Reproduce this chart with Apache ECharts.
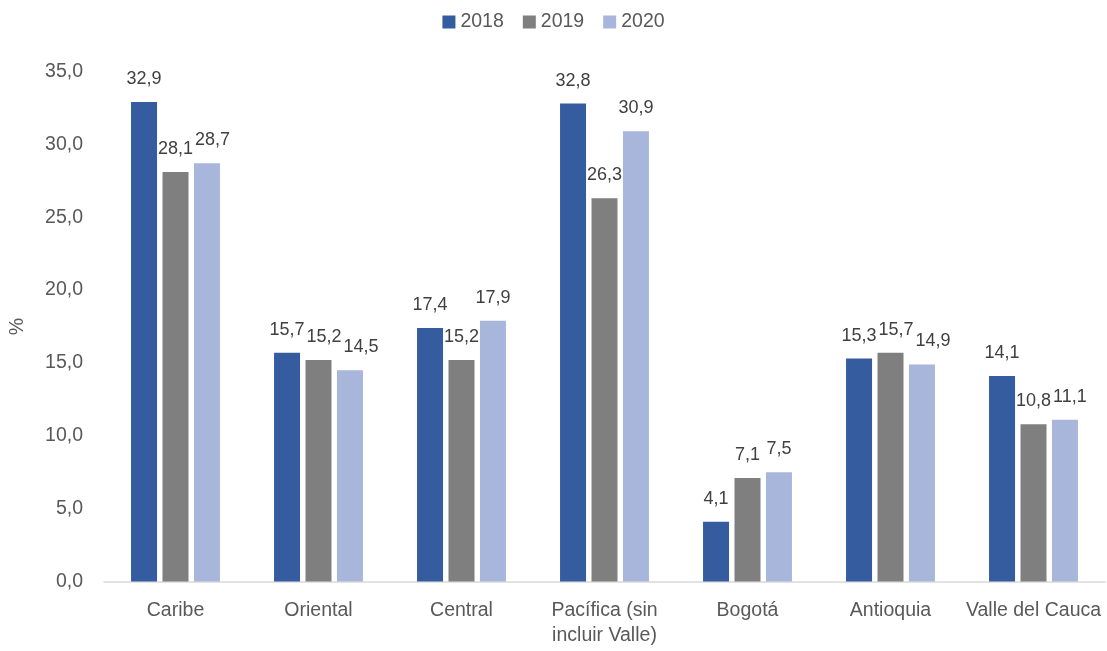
<!DOCTYPE html>
<html><head><meta charset="utf-8">
<script src="https://cdn.jsdelivr.net/npm/echarts@6/dist/echarts.min.js"></script>
<style>html,body{margin:0;padding:0;background:#fff}#c{width:1107px;height:651px}</style>
</head><body><div id="c"></div>
<script>
var categories = ['Caribe','Oriental','Central','Pacífica (sin\nincluir Valle)','Bogotá','Antioquia','Valle del Cauca'];
var s2018 = [32.9,15.7,17.4,32.8,4.1,15.3,14.1];
var s2019 = [28.1,15.2,15.2,26.3,7.1,15.7,10.8];
var s2020 = [28.7,14.5,17.9,30.9,7.5,14.9,11.1];
var yTicks = {min:0,max:35,interval:5};
function fmt(v){return Number(v).toFixed(1).replace('.',',');}
var font = 'Liberation Sans';
var labelSize = 18;
function mk(name,data,color){
  return {name:name,type:'bar',data:data,barWidth:26,barGap:'21%',
    itemStyle:{color:color},
    label:{show:true,position:'top',distance:14,color:'#404040',fontSize:labelSize,fontFamily:font,
      formatter:function(p){return fmt(p.value);}}};
}
var chart = echarts.init(document.getElementById('c'));
var seriesData = [s2018,s2019,s2020];
chart.setOption({
  animation:false,
  textStyle:{fontFamily:font},
  legend:{top:7,left:'center',itemWidth:13,itemHeight:13,itemGap:19,icon:'rect',
    textStyle:{fontSize:19.5,color:'#595959',fontFamily:font},data:['2018','2019','2020']},
  grid:{left:103,right:2,top:71.5,bottom:69.5,containLabel:false},
  xAxis:{type:'category',data:categories,
    axisLine:{lineStyle:{color:'#D9D9D9',width:1.5}},axisTick:{show:false},
    axisLabel:{color:'#595959',fontSize:19.5,fontFamily:font,margin:17,lineHeight:25,interval:0}},
  yAxis:{type:'value',min:yTicks.min,max:yTicks.max,interval:yTicks.interval,
    name:'%',nameLocation:'middle',nameGap:76,nameRotate:90,
    nameTextStyle:{color:'#595959',fontSize:19.5,fontFamily:font},
    axisLine:{show:false},axisTick:{show:false},splitLine:{show:false},
    axisLabel:{color:'#595959',fontSize:19.5,fontFamily:font,margin:21,formatter:function(v){return fmt(v);}}},
  series:[mk('2018',s2018,'#345C9F'),mk('2019',s2019,'#7F7F7F'),mk('2020',s2020,'#A9B6DB')]
});
// Resolve overlapping value labels (push right, like the spreadsheet chart does)
(function(){
  var ctx = document.createElement('canvas').getContext('2d');
  ctx.font = labelSize + 'px "' + font + '"';
  var model = chart.getModel();
  var shifted = seriesData.map(function(){return [];});
  var lh = labelSize + 2;
  for (var c = 0; c < categories.length; c++) {
    var placed = [];
    for (var s = 0; s < seriesData.length; s++) {
      var v = seriesData[s][c];
      var lay = model.getSeriesByIndex(s).getData().getItemLayout(c);
      var cx = lay.x + lay.width/2;
      var ty = chart.convertToPixel({yAxisIndex:0}, v);
      var w = ctx.measureText(fmt(v)).width;
      var dx = 0;
      for (var k = 0; k < placed.length; k++) {
        var p = placed[k];
        if (Math.abs(p.ty - ty) < lh) {
          var left = cx + dx - w/2;
          if (left < p.right + 2) { dx += p.right + 2 - left; }
        }
      }
      placed.push({ty:ty,right:cx + dx + w/2});
      shifted[s].push({value:v,label:{offset:[dx,0]}});
    }
  }
  chart.setOption({series:shifted.map(function(d){return {data:d};})});
})();
</script></body></html>
